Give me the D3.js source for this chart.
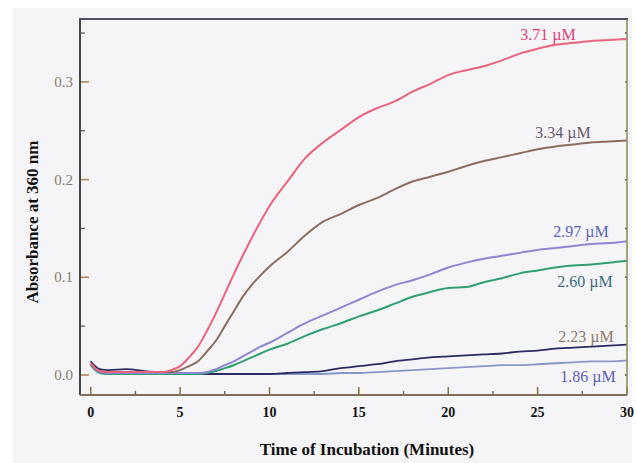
<!DOCTYPE html>
<html>
<head>
<meta charset="utf-8">
<script src="https://d3js.org/d3.v7.min.js"></script>
<style>
  body { margin: 0; background: #fff; }
  text { font-family: "Liberation Serif", "Times New Roman", serif; }
</style>
</head>
<body>
<script>
// Set Dimensions
const W = 637, H = 463;
const plotL = 80, plotR = 627, plotT = 19, plotB = 395;

// time in minutes
const minutes = [0, 0.25, 0.5, 1, 2, 3, 4, 4.5, 5, 5.5, 6, 6.5, 7, 7.5, 8, 8.5, 9, 9.5, 10,
  11, 12, 13, 14, 15, 16, 17, 18, 19, 20, 21, 22, 23, 24, 25, 26, 27, 28, 29, 30];

// absorbance at 360 nm for each concentration
const abs371 = [0.012, 0.007, 0.004, 0.003, 0.003, 0.003, 0.003, 0.005, 0.009, 0.018, 0.029, 0.045, 0.063, 0.083, 0.103, 0.122, 0.140, 0.157, 0.173,
  0.198, 0.222, 0.238, 0.251, 0.264, 0.273, 0.280, 0.290, 0.298, 0.307, 0.312, 0.316, 0.322, 0.329, 0.334, 0.338, 0.340, 0.342, 0.343, 0.344];
const abs334 = [0.012, 0.007, 0.004, 0.003, 0.003, 0.003, 0.003, 0.003, 0.005, 0.009, 0.014, 0.024, 0.035, 0.050, 0.065, 0.080, 0.092, 0.102, 0.111,
  0.126, 0.143, 0.157, 0.165, 0.174, 0.181, 0.190, 0.198, 0.203, 0.208, 0.214, 0.219, 0.223, 0.227, 0.231, 0.234, 0.236, 0.238, 0.239, 0.240];
const abs297 = [0.012, 0.006, 0.003, 0.002, 0.002, 0.002, 0.002, 0.002, 0.002, 0.002, 0.002, 0.003, 0.006, 0.010, 0.014, 0.019, 0.024, 0.029, 0.033,
  0.043, 0.053, 0.061, 0.069, 0.077, 0.085, 0.092, 0.097, 0.103, 0.110, 0.115, 0.119, 0.122, 0.125, 0.128, 0.130, 0.132, 0.134, 0.135, 0.137];
const abs260 = [0.010, 0.005, 0.002, 0.001, 0.001, 0.001, 0.001, 0.001, 0.001, 0.001, 0.001, 0.002, 0.004, 0.007, 0.010, 0.014, 0.018, 0.022, 0.026,
  0.032, 0.040, 0.047, 0.053, 0.060, 0.066, 0.073, 0.080, 0.085, 0.089, 0.090, 0.095, 0.099, 0.104, 0.107, 0.110, 0.112, 0.113, 0.115, 0.117];
const abs223 = [0.014, 0.009, 0.006, 0.005, 0.006, 0.004, 0.003, 0.003, 0.002, 0.002, 0.001, 0.001, 0.001, 0.001, 0.001, 0.001, 0.001, 0.001, 0.001,
  0.002, 0.003, 0.004, 0.007, 0.009, 0.011, 0.014, 0.016, 0.018, 0.019, 0.020, 0.021, 0.022, 0.024, 0.025, 0.027, 0.028, 0.029, 0.030, 0.031];
const abs186 = [0.011, 0.005, 0.002, 0.001, 0.001, 0.001, 0.001, 0.001, 0.001, 0.001, 0.001, 0.001, 0.001, 0.001, 0.001, 0.001, 0.001, 0.001, 0.001,
  0.001, 0.001, 0.001, 0.002, 0.002, 0.003, 0.004, 0.005, 0.006, 0.007, 0.008, 0.009, 0.010, 0.010, 0.011, 0.012, 0.013, 0.014, 0.014, 0.015];

const seriesLabels = ["3.71 \u00b5M", "3.34 \u00b5M", "2.97 \u00b5M", "2.60 \u00b5M", "2.23 \u00b5M", "1.86 \u00b5M"];

const xTicks = [0, 5, 10, 15, 20, 25, 30];
const xMinor = [2.5, 7.5, 12.5, 17.5, 22.5, 27.5];
const yTicks = [0.0, 0.1, 0.2, 0.3];
const yMinor = [0.05, 0.15, 0.25, 0.35];

const series = [
  { vals: abs371, line: "#e8647e", label: "#de3f78", w: 2,   lx: 548, ly: 40 },
  { vals: abs334, line: "#8c6e5e", label: "#6a5a72", w: 2,   lx: 563, ly: 138 },
  { vals: abs297, line: "#8f86d2", label: "#5a62b8", w: 2,   lx: 581, ly: 237 },
  { vals: abs260, line: "#2fa074", label: "#3c6a80", w: 2,   lx: 585, ly: 287 },
  { vals: abs223, line: "#2c2c62", label: "#8a7c6a", w: 1.8, lx: 586, ly: 342 },
  { vals: abs186, line: "#8a96c8", label: "#5e5eb4", w: 1.8, lx: 588, ly: 382 }
];
series.forEach((s, i) => s.name = seriesLabels[i]);

const svg = d3.select("body").append("svg")
  .attr("width", W).attr("height", H);

// paper background
svg.append("rect").attr("x", 13).attr("y", 8).attr("width", 619).attr("height", 455)
  .attr("fill", "#f5f5f7");

const x = d3.scaleLinear().domain([-0.6, 30]).range([plotL, plotR]);
const y = d3.scaleLinear().domain([-0.0205, 0.3644]).range([plotB, plotT]);

// ticks
const tk = svg.append("g");
tk.selectAll(".ym").data(yTicks).join("line")
  .attr("x1", plotL).attr("x2", plotL + 9)
  .attr("y1", d => y(d)).attr("y2", d => y(d))
  .attr("stroke", "#b08a52").attr("stroke-width", 1.6);
tk.selectAll(".yn").data(yMinor).join("line")
  .attr("x1", plotL).attr("x2", plotL + 5)
  .attr("y1", d => y(d)).attr("y2", d => y(d))
  .attr("stroke", "#6a6070").attr("stroke-width", 1.4);
tk.selectAll(".yr").data(yTicks.concat(yMinor)).join("line")
  .attr("x1", plotR - 2).attr("x2", plotR)
  .attr("y1", d => y(d)).attr("y2", d => y(d))
  .attr("stroke", "#555").attr("stroke-width", 1.4);
tk.selectAll(".xm").data(xTicks).join("line")
  .attr("x1", d => x(d)).attr("x2", d => x(d))
  .attr("y1", plotB).attr("y2", plotB - 8)
  .attr("stroke", "#8a7a4a").attr("stroke-width", 1.6);
tk.selectAll(".xn").data(xMinor).join("line")
  .attr("x1", d => x(d)).attr("x2", d => x(d))
  .attr("y1", plotB).attr("y2", plotB - 4)
  .attr("stroke", "#6a6a5a").attr("stroke-width", 1.4);

// curves
const line = d3.line()
  .x((d, i) => x(minutes[i]))
  .y(d => y(d))
  .curve(d3.curveMonotoneX);

// draw lower curves first so the upper ones sit on top
series.slice().reverse().forEach(s => {
  svg.append("path").datum(s.vals)
    .attr("fill", "none")
    .attr("stroke", s.line)
    .attr("stroke-width", s.w)
    .attr("d", line);
});

// frame
svg.append("line").attr("x1", plotL - 1).attr("x2", plotR + 1).attr("y1", plotT).attr("y2", plotT)
  .attr("stroke", "#505068").attr("stroke-width", 2.2);
svg.append("line").attr("x1", plotL).attr("x2", plotL).attr("y1", plotT).attr("y2", plotB)
  .attr("stroke", "#3e4a4a").attr("stroke-width", 2);
svg.append("line").attr("x1", plotL).attr("x2", plotR).attr("y1", plotB).attr("y2", plotB)
  .attr("stroke", "#7e6e5a").attr("stroke-width", 2);
svg.append("line").attr("x1", plotR).attr("x2", plotR).attr("y1", plotT).attr("y2", plotB)
  .attr("stroke", "#8a8a52").attr("stroke-width", 1.5);

// tick labels
svg.selectAll(".yl").data(yTicks).join("text")
  .attr("x", 73).attr("y", d => y(d) + 5)
  .attr("text-anchor", "end")
  .attr("font-size", 15)
  .attr("fill", "#857c6c")
  .text(d => d3.format(".1f")(d));
svg.selectAll(".xl").data(xTicks).join("text")
  .attr("x", d => x(d)).attr("y", 417)
  .attr("text-anchor", "middle")
  .attr("font-size", 14).attr("font-weight", "bold")
  .attr("fill", "#111")
  .text(d => d);

// series labels
svg.selectAll(".sl").data(series).join("text")
  .attr("x", d => d.lx).attr("y", d => d.ly)
  .attr("text-anchor", "middle")
  .attr("font-size", 16)
  .attr("fill", d => d.label)
  .text(d => d.name);

// axis titles
svg.append("text")
  .attr("transform", "translate(38,222) rotate(-90)")
  .attr("text-anchor", "middle")
  .attr("font-size", 17).attr("font-weight", "bold")
  .attr("fill", "#111")
  .text("Absorbance at 360 nm");
svg.append("text")
  .attr("x", 367).attr("y", 455)
  .attr("text-anchor", "middle")
  .attr("font-size", 17).attr("font-weight", "bold")
  .attr("fill", "#111")
  .text("Time of Incubation (Minutes)");
</script>
</body>
</html>
